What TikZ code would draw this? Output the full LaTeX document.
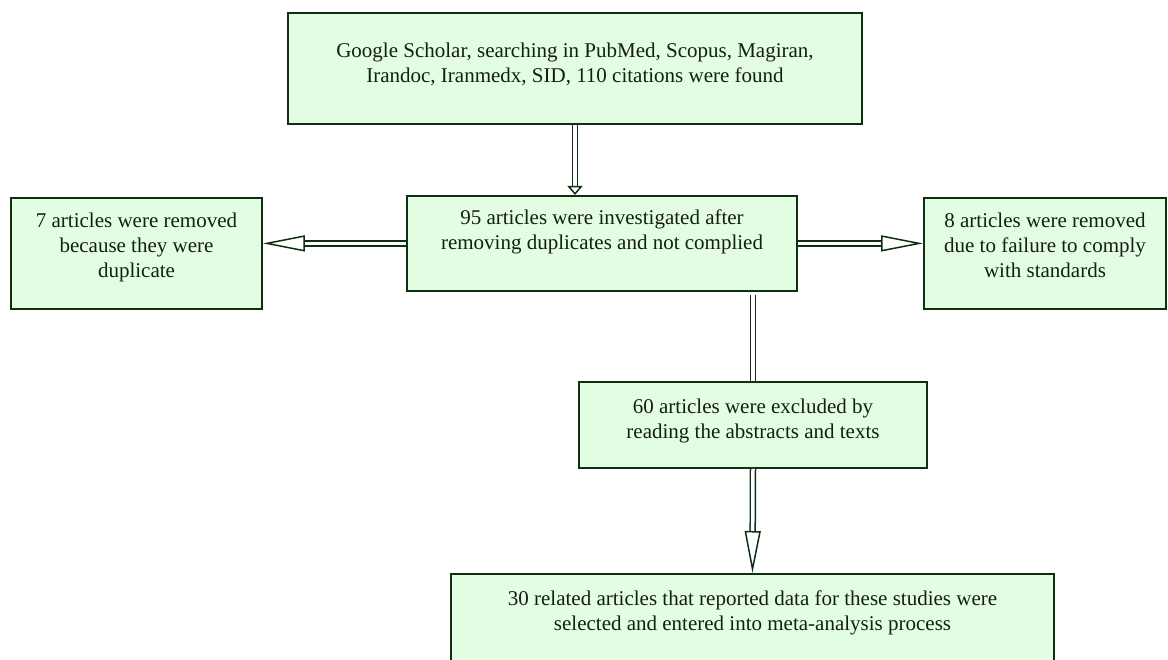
\documentclass[tikz,border=0pt]{standalone}
\usepackage{fontspec}
\setmainfont{Liberation Serif}
\usetikzlibrary{arrows.meta,calc}
\definecolor{ink}{HTML}{141E14}
\definecolor{edge}{HTML}{0F2E12}
\definecolor{boxfill}{HTML}{E2FDE2}
\tikzset{
  flowbox/.style={draw=edge,fill=boxfill,line width=1.8pt,text=ink,
    inner sep=0pt,align=center,anchor=north,
    font=\fontsize{21}{25}\selectfont},
  shaft/.style={draw=edge,line width=1.5pt,double=white,double distance=3.5pt},
  longarrow/.style={shaft,-{Triangle[open,length=42pt,width=16pt]}},
  shortarrow/.style={shaft,-{Triangle[open,length=9pt,width=15pt]}}
}

\begin{document}
\begin{tikzpicture}[x=1pt,y=-1pt]
\useasboundingbox (0,0) rectangle (1168,660);
\clip (0,0) rectangle (1168,660);

% Search and screening
\node[flowbox,minimum width=574pt,text height=70pt,text depth=41pt] (search) at (575,12)
  {Google Scholar, searching in PubMed, Scopus, Magiran,\\
   Irandoc, Iranmedx, SID, 110 citations were found};
\node[flowbox,minimum width=390pt,text height=54pt,text depth=41pt] (screened) at (602,195)
  {95 articles were investigated after\\
   removing duplicates and not complied};
\node[flowbox,minimum width=251pt,text height=80pt,text depth=31pt] (dupes) at (136.5,197)
  {7 articles were removed\\
   because they were\\
   duplicate};
\node[flowbox,minimum width=242pt,text height=80pt,text depth=31pt] (nonstd) at (1045,197)
  {8 articles were removed\\
   due to failure to comply\\
   with standards};

\draw[shortarrow] (search.south) -- (search.south |- screened.north);
\draw[longarrow] (screened.west) -- (screened.west -| dupes.east);
\draw[longarrow] (screened.east) -- (screened.east -| nonstd.west);

% Exclusion and final set
\node[flowbox,minimum width=348pt,text height=57pt,text depth=29pt] (excluded) at (753,381)
  {60 articles were excluded by\\
   reading the abstracts and texts};
\node[flowbox,minimum width=603pt,text height=57pt,text depth=85pt] (included) at (752.5,573)
  {30 related articles that reported data for these studies were\\
   selected and entered into meta-analysis process};

\draw[shaft,shorten <=3pt] (excluded.north |- screened.south) -- (excluded.north);
\draw[longarrow] (excluded.south) -- (included.north);

\end{tikzpicture}
\end{document}
